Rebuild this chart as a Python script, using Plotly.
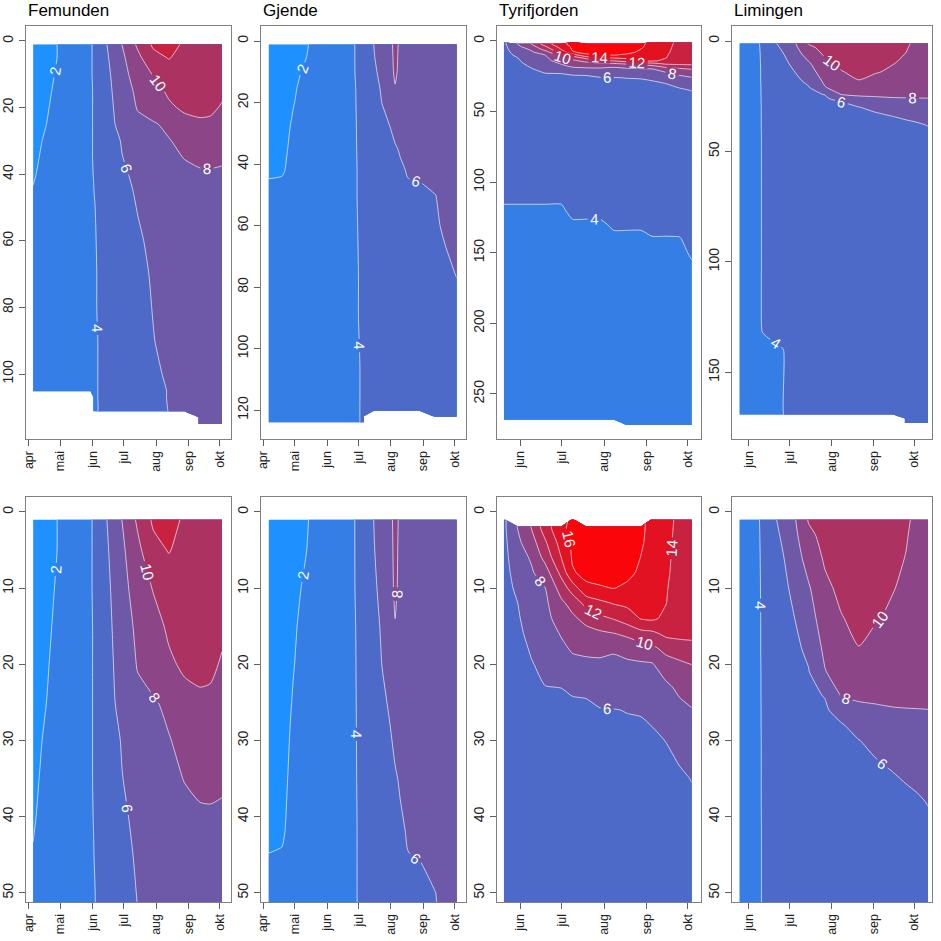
import plotly.graph_objects as go

# ---------------- axis labels ----------------
MONTH_DOY = [91, 121, 152, 182, 213, 244, 274]
MONTH_TXT = ["apr", "mai", "jun", "jul", "aug", "sep", "okt"]
LAKES = ["Femunden", "Gjende", "Tyrifjorden", "Limingen"]

# ---------------- Femunden (rows = depth, cols = day of year) ----------------
fem_days = [95, 118, 140, 150, 153, 165, 180, 195, 210, 225, 240, 255, 265, 276]
fem_depths = [1, 5, 10, 15, 20, 25, 30, 35, 40, 45, 50, 60, 70, 80, 90, 100, 105, 107, 111, 113, 115]
N = None
fem_temp = [
    [1.0, 2.0, 3.3, 3.9, 4.1, 5.9, 8.0, 10.3, 12.3, 12.5, 11.8, 11.4, 11.2, 11.0],
    [1.1, 2.0, 3.3, 3.9, 4.1, 5.7, 7.6, 9.5, 11.4, 12.1, 11.4, 11.2, 11.0, 10.8],
    [1.2, 2.1, 3.4, 3.9, 4.1, 5.5, 7.3, 8.9, 10.1, 11.0, 11.3, 11.0, 10.8, 10.5],
    [1.3, 2.2, 3.4, 3.9, 4.05, 5.4, 7.0, 8.4, 9.3, 10.3, 10.8, 10.6, 10.4, 10.2],
    [1.4, 2.3, 3.5, 3.9, 4.05, 5.3, 6.8, 8.1, 8.9, 9.7, 10.3, 10.3, 10.2, 9.9],
    [1.5, 2.4, 3.5, 3.9, 4.05, 5.2, 6.6, 7.6, 7.8, 8.4, 9.4, 9.8, 9.8, 9.4],
    [1.7, 2.5, 3.5, 3.9, 4.05, 5.05, 6.1, 6.8, 7.3, 7.9, 8.5, 9.05, 9.1, 8.9],
    [1.8, 2.6, 3.6, 3.9, 4.05, 4.9, 5.95, 6.6, 7.1, 7.6, 8.05, 8.5, 8.6, 8.4],
    [1.9, 2.7, 3.6, 3.9, 4.02, 4.8, 5.7, 6.4, 6.9, 7.3, 7.6, 7.7, 7.7, 7.6],
    [2.05, 2.8, 3.6, 3.9, 3.98, 4.7, 5.5, 6.2, 6.7, 7.1, 7.4, 7.5, 7.5, 7.4],
    [2.1, 2.8, 3.6, 3.85, 3.93, 4.5, 5.4, 6.05, 6.5, 6.9, 7.2, 7.3, 7.3, 7.2],
    [2.2, 2.9, 3.5, 3.8, 3.9, 4.4, 5.1, 5.8, 6.3, 6.7, 7.05, 7.1, 7.1, 7.05],
    [2.3, 2.9, 3.5, 3.8, 3.9, 4.3, 5.0, 5.6, 6.15, 6.6, 6.9, 7.05, 7.05, 6.9],
    [2.3, 2.9, 3.5, 3.8, 3.9, 4.3, 4.9, 5.5, 6.05, 6.5, 6.8, 6.9, 6.9, 6.8],
    [2.4, 3.0, 3.5, 3.8, 3.9, 4.2, 4.8, 5.4, 5.95, 6.4, 6.7, 6.8, 6.8, 6.7],
    [2.4, 3.0, 3.5, 3.8, 3.9, 4.2, 4.7, 5.3, 5.8, 6.15, 6.5, 6.6, 6.6, 6.6],
    [2.5, 3.0, 3.5, 3.8, 3.9, 4.2, 4.7, 5.2, 5.7, 6.05, 6.4, 6.5, 6.5, 6.5],
    [N, N, N, N, 3.9, 4.2, 4.7, 5.2, 5.7, 6.05, 6.4, 6.5, 6.5, 6.5],
    [N, N, N, N, 3.9, 4.2, 4.7, 5.2, 5.65, 6.02, 6.35, 6.45, 6.45, 6.45],
    [N, N, N, N, N, N, N, N, N, N, N, 6.45, 6.45, 6.45],
    [N, N, N, N, N, N, N, N, N, N, N, 6.45, 6.45, 6.45],
]

# ---------------- Gjende (rows = depth, cols = day of year) ----------------
gje_days = [96, 110, 120, 130, 140, 160, 178, 186, 197, 205, 212, 217, 222, 230, 240, 255, 265, 276]
gje_depths = [1, 5, 10, 15, 20, 28, 35, 42, 44, 46, 50, 60, 76, 90, 105, 120, 122, 124]
gje_temp = [
    [1.0, 1.3, 1.6, 1.85, 2.2, 3.1, 3.95, 4.8, 6.05, 6.8, 7.4, 8.6, 7.6, 7.6, 7.6, 7.6, 7.5, 7.4],
    [1.0, 1.3, 1.6, 1.9, 2.3, 3.1, 3.95, 4.7, 5.95, 6.7, 7.3, 8.5, 7.5, 7.5, 7.5, 7.5, 7.4, 7.3],
    [1.1, 1.4, 1.75, 2.1, 2.4, 3.2, 3.95, 4.6, 5.75, 6.5, 7.1, 8.4, 7.4, 7.4, 7.4, 7.4, 7.3, 7.2],
    [1.1, 1.5, 1.9, 2.2, 2.5, 3.2, 3.9, 4.5, 5.6, 6.2, 6.9, 7.9, 7.3, 7.3, 7.3, 7.3, 7.2, 7.1],
    [1.2, 1.6, 1.97, 2.3, 2.6, 3.3, 3.9, 4.4, 5.5, 6.05, 6.6, 6.9, 7.0, 7.1, 7.1, 7.1, 7.0, 6.9],
    [1.3, 1.7, 2.15, 2.4, 2.7, 3.3, 3.9, 4.3, 5.2, 5.6, 5.98, 6.3, 6.6, 6.8, 6.9, 6.9, 6.8, 6.8],
    [1.4, 1.85, 2.2, 2.5, 2.8, 3.4, 3.9, 4.25, 5.0, 5.4, 5.7, 5.9, 6.1, 6.5, 6.7, 6.8, 6.7, 6.7],
    [1.6, 1.95, 2.25, 2.55, 2.85, 3.4, 3.9, 4.2, 4.9, 5.2, 5.5, 5.7, 5.85, 6.1, 6.4, 6.6, 6.6, 6.6],
    [1.8, 2.02, 2.3, 2.6, 2.9, 3.4, 3.9, 4.2, 4.85, 5.15, 5.45, 5.65, 5.8, 6.05, 6.35, 6.55, 6.55, 6.55],
    [2.3, 2.4, 2.5, 2.7, 2.95, 3.45, 3.9, 4.2, 4.8, 5.1, 5.4, 5.6, 5.75, 5.9, 5.97, 6.25, 6.4, 6.45],
    [2.4, 2.5, 2.6, 2.8, 3.05, 3.5, 3.9, 4.2, 4.7, 5.0, 5.3, 5.5, 5.65, 5.75, 5.85, 5.98, 6.2, 6.35],
    [2.5, 2.6, 2.7, 2.9, 3.05, 3.5, 3.9, 4.15, 4.6, 4.9, 5.1, 5.3, 5.45, 5.55, 5.7, 5.9, 6.1, 6.25],
    [2.6, 2.7, 2.8, 2.95, 3.1, 3.5, 3.9, 4.1, 4.5, 4.75, 4.95, 5.1, 5.2, 5.35, 5.5, 5.7, 5.85, 6.02],
    [2.7, 2.8, 2.9, 3.02, 3.15, 3.55, 3.9, 4.1, 4.4, 4.6, 4.8, 4.9, 5.02, 5.1, 5.25, 5.45, 5.6, 5.75],
    [2.8, 2.85, 2.95, 3.05, 3.2, 3.55, 3.9, 4.05, 4.3, 4.5, 4.65, 4.75, 4.85, 4.95, 5.1, 5.3, 5.45, 5.6],
    [2.8, 2.9, 3.02, 3.1, 3.2, 3.55, 3.9, 4.05, 4.25, 4.4, 4.55, 4.65, 4.75, 4.85, 5.02, 5.2, 5.35, 5.5],
    [2.8, 2.9, 3.02, 3.1, 3.2, 3.55, 3.9, 4.05, N, N, N, N, N, N, N, 5.2, 5.35, 5.5],
    [2.8, 2.9, 3.02, 3.1, 3.2, 3.55, 3.9, 4.05, N, N, N, N, N, N, N, N, N, N],
]

# ---------------- Tyrifjorden (one profile per date, values by depth) ----------------
tyr_days = [140, 150, 160, 170, 182, 190, 200, 210, 220, 230, 240, 248, 258, 268, 277]
tyr_depths = [1, 2, 4, 6, 8, 10, 12, 14, 16, 18, 20, 23, 26, 30, 35, 40, 50, 80,
              110, 120, 130, 140, 150, 160, 200, 268, 272]
tyr_profiles = [
    [5.6, 5.6, 5.5, 5.4, 5.3, 5.2, 5.1, 5.0, 4.95, 4.9, 4.85, 4.8, 4.75, 4.7, 4.6, 4.5, 4.4, 4.3, 4.08, 3.94, 3.9, 3.85, 3.85, 3.8, 3.8, 3.8, N],
    [N, 8.05, 7.6, 7.2, 6.8, 6.4, 5.98, 5.8, 5.6, 5.45, 5.3, 5.15, 5.02, 4.9, 4.8, 4.7, 4.55, 4.35, 4.08, 3.94, 3.9, 3.85, 3.85, 3.8, 3.8, 3.8, N],
    [N, 10.05, 9.1, 8.2, 7.75, 7.45, 7.1, 6.8, 6.5, 6.15, 5.9, 5.6, 5.4, 5.2, 5.02, 4.85, 4.65, 4.4, 4.08, 3.94, 3.9, 3.85, 3.85, 3.8, 3.8, 3.8, N],
    [N, 13.0, 11.7, 10.6, 9.0, 7.95, 7.6, 7.3, 7.02, 6.7, 6.4, 5.97, 5.6, 5.35, 5.1, 4.95, 4.7, 4.45, 4.08, 3.94, 3.9, 3.85, 3.85, 3.8, 3.8, 3.8, N],
    [N, 15.6, 14.9, 14.05, 12.6, 10.9, 9.6, 9.02, 8.15, 7.6, 7.1, 6.02, 5.6, 5.35, 5.15, 5.02, 4.75, 4.45, 4.08, 3.94, 3.9, 3.85, 3.85, 3.8, 3.8, 3.8, N],
    [16.6, 16.5, 16.3, 16.2, 15.8, 12.9, 10.7, 9.6, 9.1, 8.2, 7.5, 6.2, 5.7, 5.4, 5.2, 5.05, 4.8, 4.5, 4.3, 4.1, 3.94, 3.9, 3.85, 3.8, 3.8, 3.8, N],
    [N, 17.02, 16.9, 16.7, 16.5, 15.6, 12.6, 10.6, 9.3, 8.3, 7.7, 6.3, 5.7, 5.45, 5.25, 5.1, 4.85, 4.5, 4.3, 4.1, 3.94, 3.9, 3.85, 3.8, 3.8, 3.8, N],
    [N, 17.3, 17.2, 17.02, 16.8, 15.8, 13.5, 11.5, 9.6, 8.4, 7.7, 6.9, 5.9, 5.5, 5.3, 5.15, 4.9, 4.5, 4.3, 4.1, 3.94, 3.9, 3.85, 3.8, 3.8, 3.8, N],
    [N, 17.3, 17.2, 17.1, 16.9, 16.05, 14.1, 12.1, 9.9, 8.1, 7.8, 7.02, 5.95, 5.55, 5.35, 5.2, 4.95, 4.55, 4.3, 4.2, 4.05, 3.93, 3.88, 3.85, 3.8, 3.8, N],
    [N, 17.02, 16.9, 16.8, 16.5, 15.6, 14.4, 13.02, 10.4, 8.6, 7.7, 7.02, 6.05, 5.6, 5.4, 5.25, 5.02, 4.55, 4.3, 4.2, 4.05, 3.93, 3.88, 3.85, 3.8, 3.8, 3.8],
    [N, 16.3, 16.2, 15.95, 15.6, 15.1, 14.6, 14.1, 11.3, 8.9, 7.8, 7.1, 6.1, 5.65, 5.45, 5.3, 5.05, 4.6, 4.35, 4.2, 4.05, 3.93, 3.88, 3.85, 3.8, 3.8, 3.8],
    [15.6, 15.5, 15.4, 15.2, 15.02, 14.8, 14.6, 14.3, 11.5, 9.4, 7.85, 7.2, 6.3, 5.75, 5.5, 5.35, 5.1, 4.6, 4.35, 4.2, 4.1, 3.98, 3.9, 3.85, 3.8, 3.8, 3.8],
    [14.7, 14.6, 14.5, 14.4, 14.3, 14.15, 14.05, 13.6, 12.4, 10.6, 9.02, 7.6, 6.9, 6.02, 5.6, 5.4, 5.15, 4.6, 4.35, 4.2, 4.1, 3.98, 3.9, 3.85, 3.8, 3.8, 3.8],
    [13.5, 13.5, 13.4, 13.35, 13.3, 13.2, 13.1, 12.9, 12.5, 11.1, 9.6, 8.4, 7.5, 6.5, 5.75, 5.5, 5.2, 4.65, 4.4, 4.25, 4.15, 3.98, 3.9, 3.85, 3.8, 3.8, 3.8],
    [13.02, 13.02, 12.95, 12.9, 12.85, 12.75, 12.6, 12.45, 12.3, 11.6, 10.02, 8.9, 7.9, 7.02, 6.05, 5.6, 5.25, 4.7, 4.4, 4.3, 4.2, 4.12, 4.05, 3.95, 3.85, 3.8, 3.8],
]

# ---------------- Limingen (one profile per date, values by depth) ----------------
lim_days = [145, 158, 162, 166, 175, 186, 196, 208, 220, 233, 245, 258, 268, 276, 284]
lim_depths = [1, 3, 6, 10, 14, 18, 21, 24, 26, 28, 30, 34, 38, 42, 50, 70, 100, 130, 140, 169, 171, 173]
lim_profiles = [
    [3.0, 3.0, 3.1, 3.1, 3.2, 3.2, 3.2, 3.25, 3.25, 3.25, 3.3, 3.3, 3.3, 3.3, 3.35, 3.4, 3.4, 3.45, 3.45, 3.5, N, N],
    [3.8, 3.8, 3.8, 3.8, 3.8, 3.8, 3.8, 3.8, 3.8, 3.8, 3.8, 3.8, 3.8, 3.8, 3.8, 3.8, 3.8, 3.8, 3.75, 3.75, N, N],
    [4.25, 4.2, 4.15, 4.12, 4.1, 4.1, 4.08, 4.08, 4.07, 4.07, 4.06, 4.06, 4.06, 4.05, 4.05, 4.05, 4.05, 4.04, 3.85, 3.85, N, N],
    [5.02, 4.9, 4.75, 4.6, 4.5, 4.45, 4.4, 4.35, 4.3, 4.3, 4.25, 4.2, 4.2, 4.15, 4.1, 4.1, 4.1, 4.08, 3.9, 3.9, N, N],
    [6.4, 6.05, 5.6, 5.2, 4.95, 4.8, 4.7, 4.6, 4.55, 4.5, 4.45, 4.4, 4.35, 4.3, 4.25, 4.2, 4.15, 4.12, 3.97, 3.97, N, N],
    [7.9, 7.6, 7.15, 6.6, 6.02, 5.6, 5.35, 5.1, 5.02, 4.9, 4.8, 4.7, 4.6, 4.5, 4.4, 4.3, 4.2, 4.15, 4.1, 4.1, N, N],
    [10.15, 9.6, 8.8, 7.8, 7.15, 6.4, 5.9, 5.6, 5.4, 5.25, 5.1, 4.95, 4.8, 4.7, 4.55, 4.4, 4.25, 4.2, 4.15, 4.1, N, N],
    [10.7, 10.55, 10.25, 9.6, 9.02, 8.4, 7.9, 6.1, 5.7, 5.5, 5.3, 5.1, 4.95, 4.8, 4.65, 4.45, 4.3, 4.2, 4.15, 4.1, N, N],
    [11.02, 10.9, 10.7, 10.4, 9.9, 9.3, 8.9, 8.15, 6.9, 5.8, 5.5, 5.2, 5.02, 4.9, 4.7, 4.5, 4.3, 4.2, 4.15, 4.1, N, N],
    [11.2, 11.1, 11.02, 10.8, 10.45, 9.95, 9.4, 8.4, 7.5, 6.8, 5.95, 5.45, 5.2, 5.02, 4.8, 4.55, 4.35, 4.25, 4.2, 4.15, N, N],
    [11.02, 10.9, 10.75, 10.5, 10.1, 9.6, 9.2, 8.6, 7.6, 7.02, 6.5, 5.6, 5.3, 5.1, 4.85, 4.6, 4.35, 4.25, 4.2, 4.15, N, N],
    [10.6, 10.5, 10.35, 10.05, 9.8, 9.5, 9.2, 8.8, 7.8, 7.3, 6.9, 6.02, 5.5, 5.2, 4.9, 4.6, 4.4, 4.25, 4.2, 4.15, N, N],
    [10.25, 10.1, 9.95, 9.8, 9.6, 9.35, 9.1, 8.7, 7.9, 7.4, 7.02, 6.3, 5.6, 5.3, 5.02, 4.65, 4.4, 4.3, 4.25, 4.2, 4.2, 4.2],
    [9.6, 9.55, 9.5, 9.4, 9.25, 9.05, 8.85, 8.5, 7.95, 7.5, 7.1, 6.5, 5.8, 5.4, 5.05, 4.7, 4.45, 4.3, 4.25, 4.2, 4.2, 4.2],
    [9.3, 9.25, 9.2, 9.1, 9.02, 8.85, 8.7, 8.45, 7.98, 7.6, 7.25, 6.7, 6.07, 5.6, 5.15, 4.75, 4.45, 4.3, 4.25, 4.2, 4.2, 4.2],
]

# ---------------- band colours (<2, 2-4, ..., 14-16, >16) ----------------
BAND_COLORS = ["rgb(30,144,255)", "rgb(52,126,230)", "rgb(78,106,200)", "rgb(110,88,168)",
               "rgb(140,70,135)", "rgb(172,50,98)", "rgb(200,34,64)", "rgb(226,18,34)",
               "rgb(250,5,10)"]
colorscale = [[i / (len(BAND_COLORS) - 1), c] for i, c in enumerate(BAND_COLORS)]


def transpose(profiles):
    return [list(r) for r in zip(*profiles)]


lakes = [
    dict(x=fem_days, y=fem_depths, z=fem_temp),
    dict(x=gje_days, y=gje_depths, z=gje_temp),
    dict(x=tyr_days, y=tyr_depths, z=transpose(tyr_profiles)),
    dict(x=lim_days, y=lim_depths, z=transpose(lim_profiles)),
]

W = H = 941
col_px = [(26, 231), (261, 466), (497, 701), (732, 932)]
row_px = [(26, 439), (497, 902)]
x_ranges = [[88.2, 284.6], [88.8, 284.8], [135.0, 283.7], [139.5, 287.0]]
y_ranges_top = [[119.5, -4.5], [129.4, -4.9], [282.0, -10.6], [180.3, -6.8]]
y_ticks_top = [[0, 20, 40, 60, 80, 100], [0, 20, 40, 60, 80, 100, 120],
               [0, 50, 100, 150, 200, 250], [0, 50, 100, 150]]
y_range_bottom = [51.2, -1.96]
y_ticks_bottom = [0, 10, 20, 30, 40, 50]
month_start = [0, 0, 2, 2]

FONT = "Liberation Sans, Arial, sans-serif"
fig = go.Figure()
layout = dict(width=W, height=H, margin=dict(l=0, r=0, t=0, b=0, pad=0),
              autosize=False,
              paper_bgcolor="white", plot_bgcolor="white", showlegend=False,
              annotations=[])

axis_common = dict(showline=True, linecolor="#808080", linewidth=1, mirror=True,
                   ticks="outside", ticklen=6, tickcolor="#606060", showgrid=False,
                   zeroline=False, tickangle=-90, automargin=False)

k = 0
for r in range(2):
    for c in range(4):
        k += 1
        lake = lakes[c]
        xa = "x" if k == 1 else f"x{k}"
        ya = "y" if k == 1 else f"y{k}"
        fig.add_trace(go.Contour(
            x=lake["x"], y=lake["y"], z=lake["z"],
            xaxis=xa, yaxis=ya,
            autocontour=False,
            contours=dict(start=2, end=16, size=2, coloring="fill", showlabels=True,
                          labelfont=dict(family=FONT, size=15, color="white")),
            line=dict(color="rgba(255,255,255,0.65)", width=1, smoothing=0.6),
            colorscale=colorscale, showscale=False, connectgaps=False,
            hoverinfo="skip"))
        x0, x1 = col_px[c]
        y0, y1 = row_px[r]
        ms = month_start[c]
        xkey = "xaxis" if k == 1 else f"xaxis{k}"
        ykey = "yaxis" if k == 1 else f"yaxis{k}"
        layout[xkey] = dict(axis_common, domain=[x0 / W, x1 / W], range=x_ranges[c],
                            anchor=ya, tickmode="array", tickvals=MONTH_DOY[ms:],
                            ticktext=MONTH_TXT[ms:], ticklabelstandoff=0,
                            tickfont=dict(family=FONT, size=12.5, color="#222"))
        if r == 0:
            yr, yt = y_ranges_top[c], y_ticks_top[c]
        else:
            yr, yt = y_range_bottom, y_ticks_bottom
        layout[ykey] = dict(axis_common, domain=[1 - y1 / H, 1 - y0 / H], range=yr,
                            anchor=xa, tickmode="array", tickvals=yt,
                            ticktext=[str(v) for v in yt], ticklabelstandoff=0,
                            tickfont=dict(family=FONT, size=14, color="#222"))

for c, name in enumerate(LAKES):
    layout["annotations"].append(dict(
        text=name, x=col_px[c][0] / W, y=1 - 10 / H, xref="paper", yref="paper",
        xanchor="left", yanchor="middle", showarrow=False,
        font=dict(family=FONT, size=17, color="black")))

fig.update_layout(**layout)
fig.write_html("out.html",
               config={"displayModeBar": False, "staticPlot": True},
               post_script="document.body.style.margin='0px';"
                           "document.body.style.overflow='hidden';")
